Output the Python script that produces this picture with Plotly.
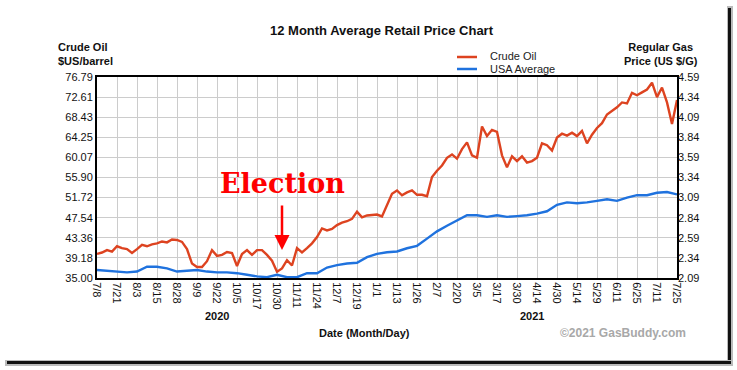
import numpy as np
import plotly.graph_objects as go

# x tick labels (month/day), evenly spaced on the chart
tick_labels = ["7/8", "7/21", "8/3", "8/15", "8/28", "9/9", "9/22", "10/5", "10/17", "10/30",
               "11/11", "11/24", "12/7", "12/19", "1/1", "1/13", "1/26", "2/7", "2/20", "3/5",
               "3/17", "3/30", "4/14", "4/30", "5/14", "5/29", "6/11", "6/25", "7/11", "7/25"]

# Crude oil ($US/barrel), sampled every quarter of a tick interval
crude_oil = [40.0, 40.3, 40.8, 40.5, 41.6, 41.2, 41.0, 40.2, 41.0, 41.9,
             41.6, 42.0, 42.2, 42.6, 42.4, 43.0, 42.9, 42.5, 41.0, 38.0,
             37.3, 37.3, 38.5, 40.8, 39.6, 39.8, 40.4, 40.2, 37.5, 40.0,
             40.8, 39.8, 40.8, 40.8, 39.8, 38.6, 36.3, 37.0, 38.7, 37.6,
             41.2, 40.3, 41.2, 42.2, 43.5, 45.3, 44.9, 45.2, 46.0, 46.5,
             46.8, 47.3, 48.8, 47.6, 48.0, 48.1, 48.2, 47.8, 50.0, 52.5,
             53.2, 52.2, 52.8, 53.2, 52.3, 52.3, 52.0, 56.0, 57.3, 58.4,
             60.0, 60.7, 59.8, 61.8, 63.2, 60.5, 60.0, 66.5, 64.5, 65.8,
             65.4, 60.5, 58.0, 60.3, 59.3, 60.3, 59.0, 59.3, 60.0, 63.0,
             62.6, 61.5, 64.2, 65.0, 64.6, 65.2, 64.5, 65.6, 63.0, 64.8,
             66.2, 67.2, 69.0, 69.8, 70.5, 71.5, 71.3, 73.5, 73.0, 73.6,
             74.2, 75.6, 72.6, 74.6, 71.5, 67.0, 72.0]

# USA average regular gas price (US $/G), sampled every half tick interval
usa_average = [2.19, 2.18, 2.17, 2.16, 2.17, 2.23, 2.23, 2.21, 2.17, 2.18,
               2.19, 2.17, 2.16, 2.16, 2.15, 2.13, 2.11, 2.10, 2.13, 2.10,
               2.10, 2.15, 2.15, 2.22, 2.25, 2.27, 2.28, 2.35, 2.39, 2.41,
               2.42, 2.46, 2.49, 2.58, 2.67, 2.74, 2.80, 2.87, 2.87, 2.85,
               2.87, 2.85, 2.86, 2.87, 2.89, 2.92, 3.00, 3.03, 3.02, 3.03,
               3.05, 3.07, 3.05, 3.09, 3.12, 3.12, 3.15, 3.16, 3.13]

left_ticks = [35.00, 39.18, 43.36, 47.54, 51.72, 55.90, 60.07, 64.25, 68.43, 72.61, 76.79]
right_ticks = [2.09, 2.34, 2.59, 2.84, 3.09, 3.34, 3.59, 3.84, 4.09, 4.34, 4.59]

CRUDE_COLOR = "#DD4320"
GAS_COLOR = "#1F72DE"
FONT = "Liberation Sans, Arial, sans-serif"
NOLINE = dict(width=0, color="rgba(0,0,0,0)")

crude_x = np.arange(len(crude_oil)) * 0.25
gas_x = np.arange(len(usa_average)) * 0.5

# plot area in pixels
L, R, T, B = 97, 677, 77, 278
W, H = 737, 370


def px(x):
    return (x - L) / (R - L)


def py(y):
    return (B - y) / (B - T)


fig = go.Figure()
fig.add_trace(go.Scatter(x=crude_x, y=crude_oil, mode="lines", name="Crude Oil",
                         line=dict(color=CRUDE_COLOR, width=2.4), yaxis="y"))
fig.add_trace(go.Scatter(x=gas_x, y=usa_average, mode="lines", name="USA Average",
                         line=dict(color=GAS_COLOR, width=2.4), yaxis="y2"))

shapes = [
    # drop shadow (right and bottom)
    dict(type="rect", xref="paper", yref="paper", x0=px(727), x1=px(733), y0=py(6), y1=py(366),
         fillcolor="#BBBBBB", line=NOLINE, layer="below"),
    dict(type="rect", xref="paper", yref="paper", x0=px(728), x1=px(731), y0=py(8), y1=py(364),
         fillcolor="#111111", line=NOLINE, layer="below"),
    dict(type="rect", xref="paper", yref="paper", x0=px(5), x1=px(733), y0=py(360), y1=py(366),
         fillcolor="#BBBBBB", line=NOLINE, layer="below"),
    dict(type="rect", xref="paper", yref="paper", x0=px(7), x1=px(731), y0=py(361), y1=py(364),
         fillcolor="#111111", line=NOLINE, layer="below"),
    # legend lines
    dict(type="line", xref="paper", yref="paper", x0=px(457), x1=px(477), y0=py(57), y1=py(57),
         line=dict(color=CRUDE_COLOR, width=2.5)),
    dict(type="line", xref="paper", yref="paper", x0=px(457), x1=px(477), y0=py(69), y1=py(69),
         line=dict(color=GAS_COLOR, width=2.5)),
]

bold = dict(family=FONT, size=11, color="#111111")
leg = dict(family=FONT, size=11, color="#222222")
annotations = [
    dict(text="<b>12 Month Average Retail Price Chart</b>", x=px(382), y=py(31), xref="paper", yref="paper",
         showarrow=False, font=dict(family=FONT, size=13, color="#111111"), xanchor="center", yanchor="middle"),
    dict(text="<b>Crude Oil<br>$US/barrel</b>", x=px(56), y=py(54), xref="paper", yref="paper",
         showarrow=False, font=bold, xanchor="left", yanchor="middle", align="left"),
    dict(text="<b>Regular Gas<br>Price (US $/G)</b>", x=px(661), y=py(54), xref="paper", yref="paper",
         showarrow=False, font=bold, xanchor="center", yanchor="middle", align="center"),
    dict(text="Crude Oil", x=px(488), y=py(55.5), xref="paper", yref="paper", showarrow=False,
         font=leg, xanchor="left", yanchor="middle"),
    dict(text="USA Average", x=px(488), y=py(69), xref="paper", yref="paper", showarrow=False,
         font=leg, xanchor="left", yanchor="middle"),
    dict(text="<b>2020</b>", x=px(217), y=py(316), xref="paper", yref="paper", showarrow=False,
         font=bold, xanchor="center", yanchor="middle"),
    dict(text="<b>2021</b>", x=px(532), y=py(316), xref="paper", yref="paper", showarrow=False,
         font=bold, xanchor="center", yanchor="middle"),
    dict(text="<b>Date (Month/Day)</b>", x=px(364), y=py(333), xref="paper", yref="paper", showarrow=False,
         font=bold, xanchor="center", yanchor="middle"),
    dict(text="<b>©2021 GasBuddy.com</b>", x=px(688), y=py(333), xref="paper", yref="paper", showarrow=False,
         font=dict(family=FONT, size=12, color="#A8A8A8"), xanchor="right", yanchor="middle"),
    dict(text="<b>Election</b>", x=px(282), y=py(183), xref="paper", yref="paper", showarrow=False,
         font=dict(family="DejaVu Serif, serif", size=27, color="#FF0000"), xanchor="center", yanchor="middle"),
    dict(text="", x=9.25, y=40.8, xref="x", yref="y", showarrow=True, ax=0, ay=-46,
         arrowhead=2, arrowsize=1.2, arrowwidth=2.5, arrowcolor="#FF0000"),
]

tickfont = dict(family=FONT, size=11, color="#111111")
fig.update_layout(
    width=W, height=H,
    margin=dict(l=L, r=W - R, t=T, b=H - B),
    paper_bgcolor="white", plot_bgcolor="white",
    showlegend=False,
    shapes=shapes, annotations=annotations,
    xaxis=dict(range=[0, 29], tickmode="array", tickvals=list(range(len(tick_labels))), ticktext=tick_labels,
               tickangle=90, showgrid=True, gridcolor="#CCCCCC", gridwidth=1,
               showline=True, linecolor="black", linewidth=2, mirror=True, ticks="",
               tickfont=tickfont, zeroline=False),
    yaxis=dict(range=[35, 76.79], tickmode="array", tickvals=left_ticks,
               ticktext=[f"{v:.2f}" for v in left_ticks],
               showgrid=True, gridcolor="#CCCCCC", gridwidth=1,
               showline=True, linecolor="black", linewidth=2, mirror=True, ticks="",
               tickfont=tickfont, zeroline=False),
    yaxis2=dict(range=[2.09, 4.59], overlaying="y", side="right", tickmode="array", tickvals=right_ticks,
                ticktext=[f"{v:.2f}" for v in right_ticks], showgrid=False, ticks="",
                tickfont=tickfont, zeroline=False, showline=False),
)

fig.write_html("out.html", config={"displayModeBar": False},
               post_script="document.body.style.margin='0px';")
